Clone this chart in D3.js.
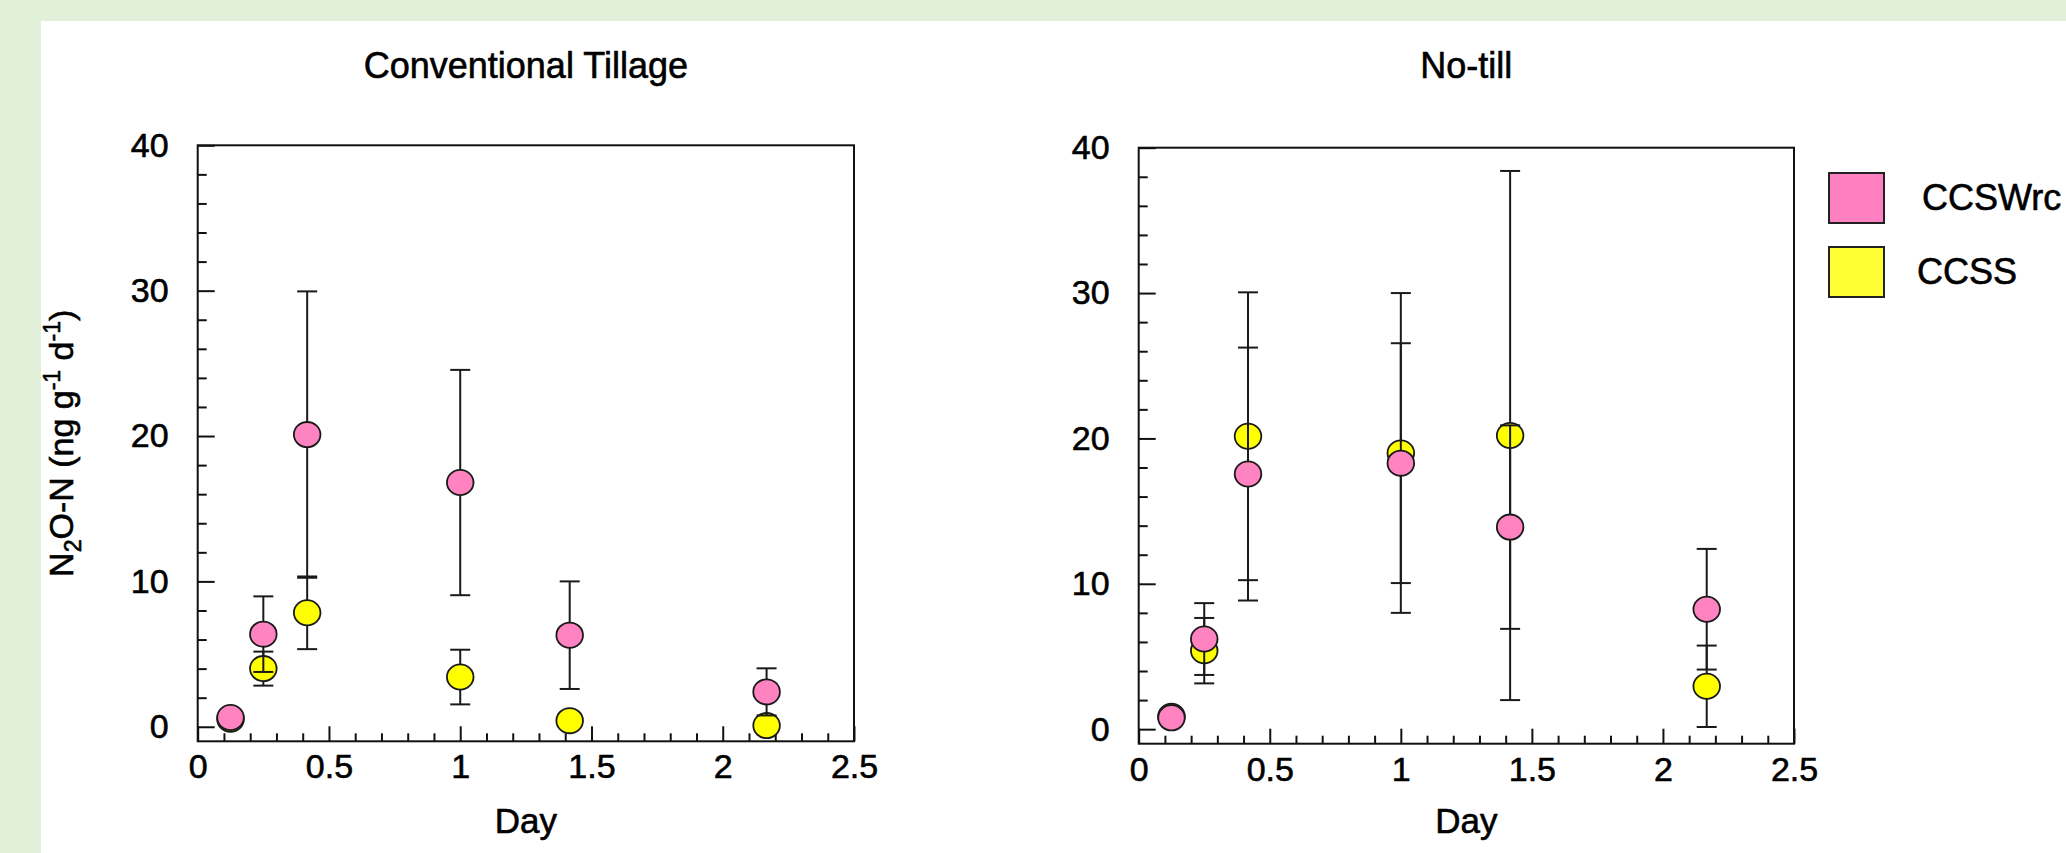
<!DOCTYPE html>
<html>
<head>
<meta charset="utf-8">
<script src="https://cdn.jsdelivr.net/npm/d3@7"></script>
<style>
  html, body { margin: 0; padding: 0; background: #e2efd9; }
  svg { display: block; }
  text { font-family: "Liberation Sans", Arial, Helvetica, sans-serif; fill: #000; stroke: #000; stroke-width: 0.6px; }
</style>
</head>
<body>
<script>
// ---------- data ----------
const days = [0.125, 0.25, 0.417, 1, 1.417, 2.167];
const seriesNames = ["CCSWrc", "CCSS"];
const seriesColors = ["#ff82c1", "#ffff00"];
const legendColors = ["#ff80c0", "#ffff33"];

// Conventional Tillage
const ctCCSWrc    = [0.64, 6.37, 20.1, 16.8, 6.3, 2.4];
const ctCCSWrcErr = [0, 2.6, 9.85, 7.75, 3.7, 1.62];
const ctCCSS      = [0.52, 4.0, 7.84, 3.42, 0.42, 0.08];
const ctCCSSErr   = [0, 1.17, 2.5, 1.88, 0, 0];

// No-till
const ntCCSWrc    = [0.78, 6.2, 17.55, 18.3, 13.9, 8.25];
const ntCCSWrcErr = [0, 2.47, 8.7, 8.25, 7.0, 4.15];
const ntCCSS      = [0.88, 5.4, 20.15, 19.0, 20.2, 2.95];
const ntCCSSErr   = [0, 2.25, 9.9, 11.0, 18.2, 2.8];

const panelTitles = ["Conventional Tillage", "No-till"];
const xMajorTicks = [0, 0.5, 1, 1.5, 2, 2.5];
const yMajorTicks = [0, 10, 20, 30, 40];
const xLabel = "Day";

// ---------- layout ----------
const W = 2066, H = 853;
const svg = d3.select("body").append("svg").attr("width", W).attr("height", H);

svg.append("rect").attr("x", 0).attr("y", 0).attr("width", W).attr("height", H).attr("fill", "#e2efd9");
svg.append("rect").attr("x", 41).attr("y", 21).attr("width", W - 41).attr("height", H - 21).attr("fill", "#ffffff");

const panels = [
  { title: panelTitles[0], x0: 197.7, x1: 854, y0: 145.3, y1: 741.3,
    vals: [ctCCSWrc, ctCCSS], errs: [ctCCSWrcErr, ctCCSSErr], ylab: true },
  { title: panelTitles[1], x0: 1138.7, x1: 1794, y0: 147.7, y1: 743.7,
    vals: [ntCCSWrc, ntCCSS], errs: [ntCCSWrcErr, ntCCSSErr], ylab: false }
];

const xMinor = d3.range(0, 25).map(i => i / 10).filter(v => Math.abs(v * 2 - Math.round(v * 2)) > 1e-6);
const yMinor = d3.range(0, 41, 2).filter(v => v % 10 !== 0);

panels.forEach(p => {
  const x = d3.scaleLinear().domain([0, 2.5]).range([p.x0, p.x1]);
  const y = d3.scaleLinear().domain([-1, 40]).range([p.y1, p.y0]);
  const g = svg.append("g");

  // y axis minor
  g.append("g").attr("transform", `translate(${p.x0},0)`)
    .call(d3.axisLeft(y).tickValues(yMinor).tickSize(-9).tickFormat(""))
    .call(a => a.select(".domain").remove())
    .call(a => a.selectAll("line").attr("stroke", "#111").attr("stroke-width", 2));
  // y axis major
  g.append("g").attr("transform", `translate(${p.x0},0)`)
    .call(d3.axisLeft(y).tickValues(yMajorTicks).tickSize(-17).tickPadding(29).tickFormat(d3.format("d")))
    .call(a => a.select(".domain").remove())
    .call(a => a.selectAll("line").attr("stroke", "#111").attr("stroke-width", 2))
    .call(a => a.selectAll("text").attr("font-size", 34).attr("fill", "#000")
      .attr("font-family", '"Liberation Sans", Arial, sans-serif'));

  // x axis minor
  g.append("g").attr("transform", `translate(0,${p.y1})`)
    .call(d3.axisBottom(x).tickValues(xMinor).tickSize(-8).tickFormat(""))
    .call(a => a.select(".domain").remove())
    .call(a => a.selectAll("line").attr("stroke", "#111").attr("stroke-width", 2));
  // x axis major
  g.append("g").attr("transform", `translate(0,${p.y1})`)
    .call(d3.axisBottom(x).tickValues(xMajorTicks).tickSize(-15).tickPadding(13).tickFormat(d => String(d)))
    .call(a => a.select(".domain").remove())
    .call(a => a.selectAll("line").attr("stroke", "#111").attr("stroke-width", 2))
    .call(a => a.selectAll("text").attr("font-size", 34).attr("fill", "#000")
      .attr("font-family", '"Liberation Sans", Arial, sans-serif'));

  // frame
  g.append("rect").attr("x", p.x0).attr("y", p.y0)
    .attr("width", p.x1 - p.x0).attr("height", p.y1 - p.y0)
    .attr("fill", "none").attr("stroke", "#111").attr("stroke-width", 2);

  // title
  g.append("text").attr("x", (p.x0 + p.x1) / 2).attr("y", 78)
    .attr("text-anchor", "middle").attr("font-size", 36).text(p.title);
  // x label
  g.append("text").attr("x", (p.x0 + p.x1) / 2).attr("y", 833)
    .attr("text-anchor", "middle").attr("font-size", 35).text(xLabel);

  // series: draw CCSS (index 1) first, then CCSWrc on top
  [1, 0].forEach(si => {
    const pts = days.map((d, i) => ({ d, v: p.vals[si][i], e: p.errs[si][i] }));
    const eg = g.append("g").attr("stroke", "#1a1a1a").attr("stroke-width", 2);
    pts.filter(q => q.e > 0).forEach(q => {
      eg.append("line").attr("x1", x(q.d)).attr("x2", x(q.d)).attr("y1", y(q.v + q.e)).attr("y2", y(q.v - q.e));
      eg.append("line").attr("x1", x(q.d) - 10).attr("x2", x(q.d) + 10).attr("y1", y(q.v + q.e)).attr("y2", y(q.v + q.e));
      eg.append("line").attr("x1", x(q.d) - 10).attr("x2", x(q.d) + 10).attr("y1", y(q.v - q.e)).attr("y2", y(q.v - q.e));
    });
    g.append("g").selectAll("ellipse").data(pts).join("ellipse")
      .attr("cx", q => x(q.d)).attr("cy", q => y(q.v))
      .attr("rx", 13.3).attr("ry", 12.6)
      .attr("fill", seriesColors[si]).attr("stroke", "#1a1a1a").attr("stroke-width", 1.8);
  });

  if (p.ylab) {
    const t = svg.append("text")
      .attr("transform", `translate(73,${(p.y0 + p.y1) / 2}) rotate(-90)`)
      .attr("text-anchor", "middle").attr("font-size", 34);
    t.append("tspan").text("N");
    t.append("tspan").attr("font-size", 23).attr("dy", 8).text("2");
    t.append("tspan").attr("dy", -8).text("O-N (ng g");
    t.append("tspan").attr("font-size", 23).attr("dy", -13).text("-1");
    t.append("tspan").attr("dy", 13).text(" d");
    t.append("tspan").attr("font-size", 23).attr("dy", -13).text("-1");
    t.append("tspan").attr("dy", 13).text(")");
  }
});

// legend
const legendY = [173, 247];
const legendTextX = [1922, 1917];
seriesNames.forEach((name, i) => {
  svg.append("rect").attr("x", 1829).attr("y", legendY[i]).attr("width", 55).attr("height", 50)
    .attr("fill", legendColors[i]).attr("stroke", "#222").attr("stroke-width", 2);
  svg.append("text").attr("x", legendTextX[i]).attr("y", legendY[i] + 37)
    .attr("font-size", 36).text(name);
});
</script>
</body>
</html>
